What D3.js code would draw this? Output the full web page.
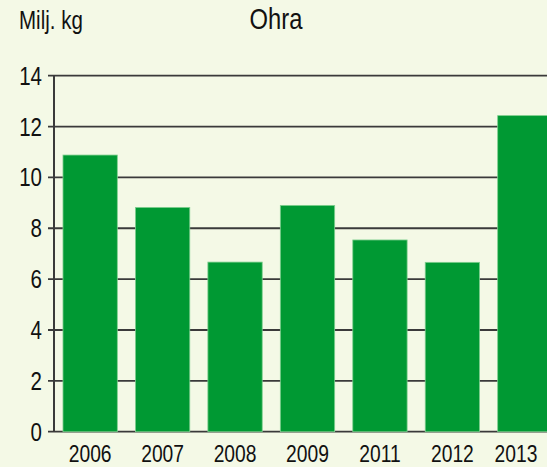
<!DOCTYPE html>
<html>
<head>
<meta charset="utf-8">
<script src="https://cdn.jsdelivr.net/npm/d3@7"></script>
<style>
  html, body { margin: 0; padding: 0; background: #f4f9e6; }
  svg { display: block; }
  text { font-family: "Liberation Sans", Arial, sans-serif; fill: #111; }
</style>
</head>
<body>
<div class="chart"></div>
<script>
// data
var years = ["2006", "2007", "2008", "2009", "2011", "2012", "2013"];
var values = [10.88, 8.82, 6.67, 8.9, 7.54, 6.66, 12.43];
var yTicks = [0, 2, 4, 6, 8, 10, 12, 14];
var title = "Ohra";
var unitLabel = "Milj. kg";

var width = 547;
var height = 467;
var squeeze = 0.82; // reference uses a narrow face

var svg = d3.select(".chart")
    .append("svg")
    .attr("width", width)
    .attr("height", height);

// plot runs off the right edge, like the reference
var x = d3.scaleBand()
    .domain(years)
    .range([54, 561])
    .paddingInner(0.25)
    .paddingOuter(0.124);

var y = d3.scaleLinear()
    .domain([0, 14])
    .range([431.7, 75.7]);

function narrowText(sel, px, py) {
    return sel.attr("transform", function (d, i) {
        var tx = typeof px === "function" ? px(d, i) : px;
        var ty = typeof py === "function" ? py(d, i) : py;
        return "translate(" + tx + "," + ty + ") scale(" + squeeze + ",1)";
    });
}

// grid lines
svg.selectAll(".grid")
    .data(yTicks)
    .enter()
    .append("line")
    .attr("class", "grid")
    .attr("x1", 48)
    .attr("x2", width)
    .attr("y1", function (d) { return y(d); })
    .attr("y2", function (d) { return y(d); })
    .attr("stroke", "#3a3a3a")
    .attr("stroke-width", 1.8);

// y axis line
svg.append("line")
    .attr("x1", 54).attr("x2", 54)
    .attr("y1", y(14)).attr("y2", y(0))
    .attr("stroke", "#3a3a3a")
    .attr("stroke-width", 2);

// bars
svg.selectAll(".bar")
    .data(values)
    .enter()
    .append("rect")
    .attr("class", "bar")
    .attr("x", function (d, i) { return x(years[i]); })
    .attr("width", x.bandwidth())
    .attr("y", function (d) { return y(d); })
    .attr("height", function (d) { return y(0) - y(d); })
    .attr("fill", "#009933")
    .attr("stroke", "#7fcf8f")
    .attr("stroke-width", 0.8);

// y tick labels
svg.selectAll(".ylab")
    .data(yTicks)
    .enter()
    .append("text")
    .attr("class", "ylab")
    .attr("text-anchor", "end")
    .style("font-size", "25px")
    .text(function (d) { return d; })
    .call(narrowText, 42, function (d) { return y(d) + 9; });

// x labels
svg.selectAll(".xlab")
    .data(years)
    .enter()
    .append("text")
    .attr("class", "xlab")
    .attr("text-anchor", "middle")
    .style("font-size", "23.5px")
    .text(function (d) { return d; })
    .call(narrowText, function (d) {
        var cx = x(d) + x.bandwidth() / 2;
        return Math.min(cx, 516);
    }, 462);

// title and unit
svg.append("text")
    .attr("text-anchor", "middle")
    .style("font-size", "29px")
    .text(title)
    .call(narrowText, 276, 29);

svg.append("text")
    .style("font-size", "25px")
    .text(unitLabel)
    .call(narrowText, 19, 29);
</script>
</body>
</html>
